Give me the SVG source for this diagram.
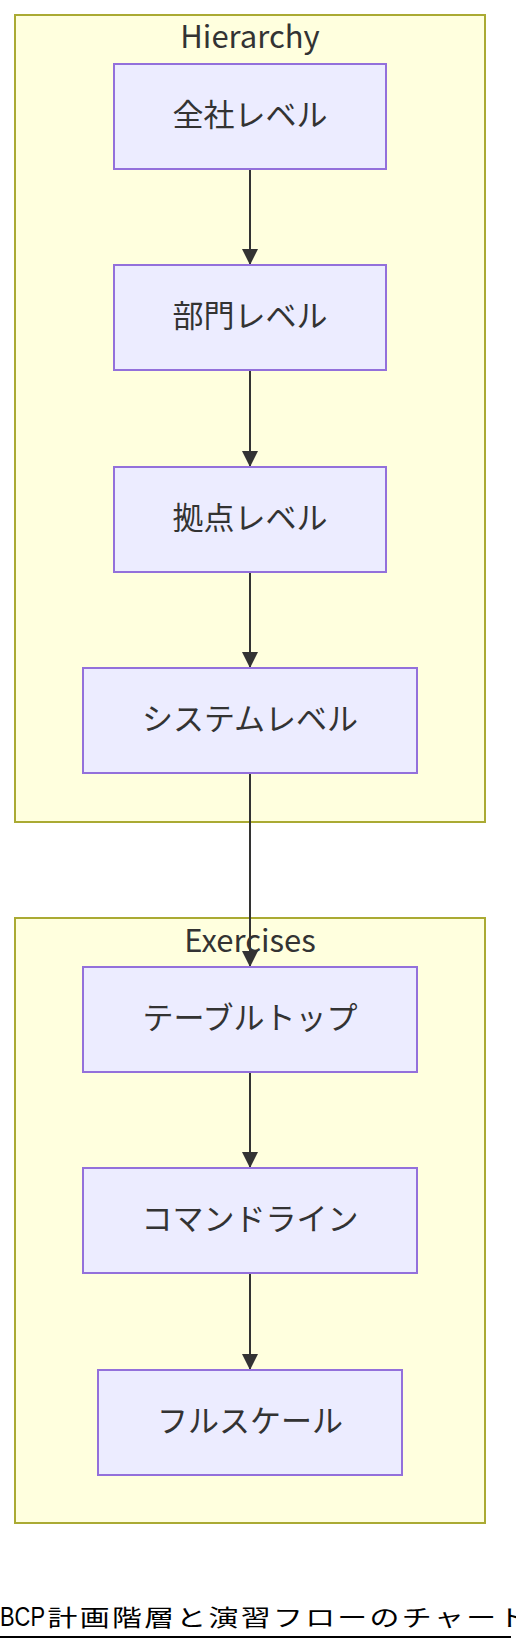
<svg xmlns="http://www.w3.org/2000/svg" width="516" height="1652" viewBox="0 0 516 1652">
<style>
.cluster rect{fill:#ffffde;stroke:#aaaa33;stroke-width:2}
.cluster text{font-family:"Noto Sans CJK JP","Liberation Sans",sans-serif;font-size:31px;fill:#333;text-anchor:middle}
.node rect{fill:#ececff;stroke:#9370db;stroke-width:2}
.node text{font-family:"Noto Sans CJK JP","Liberation Sans",sans-serif;font-size:31px;fill:#333;text-anchor:middle}
.edge{stroke:#333;stroke-width:2;fill:none;marker-end:url(#arrow)}
.title{font-family:"Noto Sans CJK JP",sans-serif;font-size:23px;fill:#000}
</style>
<defs>
<marker id="arrow" markerUnits="userSpaceOnUse" markerWidth="16" markerHeight="16" refX="16" refY="8" orient="auto" viewBox="0 0 16 16">
<path d="M0,0 L16,8 L0,16 z" fill="#333"/>
</marker>
</defs>
<g id="cluster-hierarchy" class="cluster">
<rect x="15" y="15" width="470" height="807"/>
<text x="250" y="48">Hierarchy</text>
</g>
<g id="cluster-exercises" class="cluster">
<rect x="15" y="918" width="470" height="605"/>
<text x="250" y="952">Exercises</text>
</g>
<g id="connectors">
<path class="edge" d="M250,169 L250,265"/>
<path class="edge" d="M250,370 L250,467"/>
<path class="edge" d="M250,572 L250,668"/>
<path class="edge" d="M250,773 L250,967"/>
<path class="edge" d="M250,1072 L250,1168"/>
<path class="edge" d="M250,1273 L250,1370"/>
</g>
<g id="node-zensha" class="node">
<rect x="114" y="64" width="272" height="105"/>
<text x="250" y="125.5">全社レベル</text>
</g>
<g id="node-bumon" class="node">
<rect x="114" y="265" width="272" height="105"/>
<text x="250" y="326.5">部門レベル</text>
</g>
<g id="node-kyoten" class="node">
<rect x="114" y="467" width="272" height="105"/>
<text x="250" y="528.5">拠点レベル</text>
</g>
<g id="node-system" class="node">
<rect x="83" y="668" width="334" height="105"/>
<text x="250" y="729.5">システムレベル</text>
</g>
<g id="node-tabletop" class="node">
<rect x="83" y="967" width="334" height="105"/>
<text x="250" y="1028.5">テーブルトップ</text>
</g>
<g id="node-commandline" class="node">
<rect x="83" y="1168" width="334" height="105"/>
<text x="250" y="1229.5">コマンドライン</text>
</g>
<g id="node-fullscale" class="node">
<rect x="98" y="1370" width="304" height="105"/>
<text x="250" y="1431.5">フルスケール</text>
</g>
<g id="title">
<text class="title" transform="scale(1.3,1)" y="1626"><tspan x="0" font-family="Liberation Sans,sans-serif" font-size="28" textLength="34.6" lengthAdjust="spacingAndGlyphs">BCP</tspan><tspan x="36.58 61.35 86.12 110.88 135.65 160.42 185.19 209.96 234.73 259.5 284.27 309.04 333.81 358.58 383.35">計画階層と演習フローのチャート</tspan></text>
<rect x="0" y="1636" width="511" height="2" fill="#000"/>
</g>
</svg>
